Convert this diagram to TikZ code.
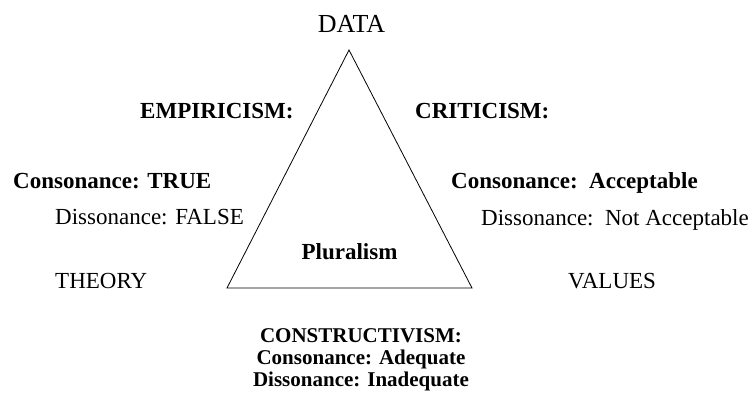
\documentclass[tikz,border=0pt]{standalone}
\usepackage{fontspec}
\setmainfont{Liberation Serif}
\tikzset{
  txt/.style={inner sep=0pt, font=\fontsize{23}{27}\selectfont},
  hdr/.style={inner sep=0pt, font=\fontsize{23}{27}\selectfont\bfseries},
  low/.style={inner sep=0pt, font=\fontsize{21}{24}\selectfont\bfseries}
}
\begin{document}
\begin{tikzpicture}[x=1pt, y=-1pt]
    \useasboundingbox (0,0) rectangle (756,394);

    % triangle
    \coordinate (apex) at (349,50);
    \coordinate (theoryc) at (227,288);
    \coordinate (valuesc) at (472,288);
    \draw[line width=0.8pt, line join=miter] (apex) -- (theoryc) -- (valuesc) -- cycle;

    % corners
    \node[txt, anchor=base, font=\fontsize{26}{30}\selectfont] (data) at (351.5,32) {DATA};
    \node[txt, anchor=base west] (theory) at (55,288) {THEORY};
    \node[txt, anchor=base west] (values) at (568,288) {VALUES};
    \node[hdr, anchor=base] (plural) at (349.5,259) {Pluralism};

    % left side
    \node[hdr, anchor=base west] (empir) at (140,118) {EMPIRICISM:};
    \node[hdr, anchor=base west] (empcons) at (13,188) {Consonance: TRUE};
    \node[txt, anchor=base west] (empdiss) at (55,224) {Dissonance: FALSE};

    % right side
    \node[hdr, anchor=base west] (crit) at (415,118) {CRITICISM:};
    \node[hdr, anchor=base west] (critcons) at (451,188) {Consonance:\ \ Acceptable};
    \node[txt, anchor=base west] (critdiss) at (481,225) {Dissonance:\ \ Not Acceptable};

    % bottom
    \node[low, anchor=base] (constr) at (361,342) {CONSTRUCTIVISM:};
    \node[low, anchor=base] (concons) at (361,364) {Consonance: Adequate};
    \node[low, anchor=base] (condiss) at (361,386) {Dissonance: Inadequate};
\end{tikzpicture}
\end{document}
